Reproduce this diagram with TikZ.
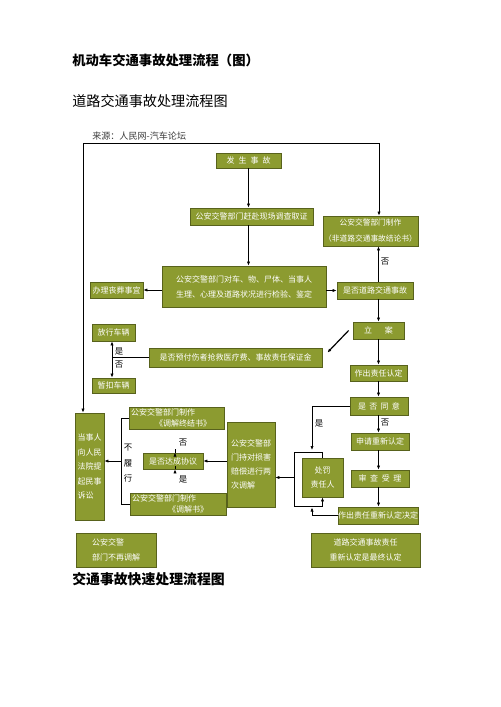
\documentclass[tikz,border=0pt]{standalone}
\usepackage{fontspec}
\setmainfont{Noto Sans CJK SC}
\usetikzlibrary{arrows.meta,calc}
\definecolor{boxfill}{RGB}{140,155,48}
\definecolor{boxline}{RGB}{88,98,28}
\definecolor{srcgray}{RGB}{60,60,60}
\tikzset{
  bx/.style={draw=boxline, fill=boxfill, text=white, line width=0.6pt, inner sep=0pt,
    font=\fontsize{6}{9}\selectfont, align=center},
  arr/.style={-{Latex[length=3pt,width=2.4pt]}, line width=0.5pt},
  ln/.style={line width=0.5pt},
  lbl/.style={inner sep=0pt, font=\fontsize{6.3}{7}\selectfont},
  ttl/.style={anchor=west, inner sep=0pt}
}
\begin{document}
\begin{tikzpicture}[x=0.75pt,y=-0.75pt]
\useasboundingbox (0,0) rectangle (500,707);
\fill[white] (0,0) rectangle (500,707);

% titles
\node[ttl, font=\bfseries\fontsize{10}{12}\selectfont] (t1) at (72,60) {机动车交通事故处理流程（图）};
\node[ttl, font=\fontsize{10.6}{12}\selectfont] (t2) at (72,101) {道路交通事故处理流程图};
\node[ttl, font=\fontsize{6.8}{8}\selectfont, text=srcgray] (src) at (92,136) {来源：人民网-汽车论坛};
\node[ttl, font=\bfseries\fontsize{10.4}{12}\selectfont] (t3) at (72,579) {交通事故快速处理流程图};

% boxes
\node[bx, minimum width=48.75pt, minimum height=11.25pt] (fs) at (248.5,160.5) {发\hspace{0.5em}生\hspace{0.5em}事\hspace{0.5em}故};
\node[bx, minimum width=92.25pt, minimum height=12.75pt] (gf) at (251.5,216.5) {公安交警部门赶赴现场调查取证};
\node[bx, minimum width=71.25pt, minimum height=22.5pt, font=\fontsize{5.8}{12}\selectfont] (zz) at (370.5,231) {公安交警部门制作\\（非道路交通事故结论书）};
\node[bx, minimum width=123pt, minimum height=30.75pt, font=\fontsize{6}{11.25}\selectfont] (jd) at (244,286.5) {公安交警部门对车、物、尸体、当事人\\生理、心理及道路状况进行检验、鉴定};
\node[bx, minimum width=39.75pt, minimum height=12pt] (sz) at (116.5,290) {办理丧葬事宜};
\node[bx, minimum width=57pt, minimum height=12.75pt] (sf) at (375,290.5) {是否道路交通事故};
\node[bx, minimum width=38.25pt, minimum height=12.75pt] (la) at (378.5,330.5) {立\hspace{1.6em}案};
\node[bx, minimum width=129.75pt, minimum height=14.25pt] (yf) at (235.5,357.5) {是否预付伤者抢救医疗费、事故责任保证金};
\node[bx, minimum width=32.25pt, minimum height=12.75pt] (fx) at (113.5,332.5) {放行车辆};
\node[bx, minimum width=32.25pt, minimum height=11.25pt] (zk) at (113.5,385.5) {暂扣车辆};
\node[bx, minimum width=42.75pt, minimum height=12pt] (zr) at (378.5,373) {作出责任认定};
\node[bx, minimum width=43.5pt, minimum height=13.5pt] (ty) at (379,406) {是\hspace{0.4em}否\hspace{0.4em}同\hspace{0.4em}意};
\node[bx, minimum width=43.5pt, minimum height=12.75pt] (sq) at (380,441.5) {申请重新认定};
\node[bx, minimum width=43.5pt, minimum height=12.75pt] (sc) at (380,478.5) {审\hspace{0.45em}查\hspace{0.45em}受\hspace{0.45em}理};
\node[bx, minimum width=60pt, minimum height=12.75pt] (cx) at (378,515.5) {作出责任重新认定决定};
\node[bx, minimum width=30.75pt, minimum height=29.25pt, font=\fontsize{6}{11}\selectfont] (cf) at (322.5,477.5) {处罚\\责任人};
\node[bx, minimum width=36pt, minimum height=63.75pt, align=left, font=\fontsize{6}{10.3}\selectfont] (lc) at (251,464.5) {公安交警部\\门持对损害\\赔偿进行两\\次调解};
\node[bx, minimum width=45pt, minimum height=12pt] (dc) at (173,461) {是否达成协议};
\node[bx, minimum width=71.25pt, minimum height=16.5pt, text width=68pt, align=left, font=\fontsize{6}{8.5}\selectfont] (zj) at (176.5,418) {公安交警部门制作\\\hspace*{3em}《调解终结书》};
\node[bx, minimum width=72pt, minimum height=16.5pt, text width=69pt, align=left, font=\fontsize{6}{8.5}\selectfont] (tj) at (178,504) {公安交警部门制作\\\hspace*{4.5em}《调解书》};
\node[bx, minimum width=21.75pt, minimum height=80.25pt, align=left, font=\fontsize{6}{10.9}\selectfont] (ds) at (89.5,466.5) {当事人\\向人民\\法院提\\起民事\\诉讼};
\node[bx, minimum width=60pt, minimum height=25.5pt, align=left, font=\fontsize{6}{11}\selectfont] (bz) at (116,550) {公安交警\\部门不再调解};
\node[bx, minimum width=81.75pt, minimum height=25.5pt, font=\fontsize{6}{11}\selectfont] (zs) at (365.5,550) {道路交通事故责任\\重新认定是最终认定};

% frame from top
\coordinate (tl) at (83,143);
\coordinate (tr) at (379,143);
\draw[arr] (tl) -- (tl |- ds.north);
\draw[arr] (tl) -- (tr) -- (tr |- zz.north);

% main flow
\draw[arr] (fs.south) -- (fs.south |- gf.north);
\draw[arr] (fs.south |- gf.south) -- (fs.south |- jd.north);
\draw[arr] (jd.west |- sz) -- (sz.east);
\draw[arr] (jd.east |- sf) -- (sf.west);
\draw[arr] (la.north |- sf.north) -- (la.north |- zz.south);
\node[lbl] (nf1) at (385,262) {否};
\draw[arr] (la.north |- sf.south) -- (la.north);
\draw[arr, line width=0.9pt] ($(la.west)+(-4,0)$) -- ($(yf.north east)+(5,5)$);

% vehicles
\coordinate (br) at (112,357.5);
\draw[ln] (yf.west) -- (br);
\draw[arr] (br) -- (br |- fx.south);
\draw[arr] (br) -- (br |- zk.north);
\node[lbl] (ls1) at (119,351) {是};
\node[lbl] (lf1) at (119,365) {否};

% right column
\draw[arr] (la.south) -- (la.south |- zr.north);
\draw[arr] (zr.south) -- (zr.south |- ty.north);
\draw[arr] (zr.south |- ty.south) -- (zr.south |- sq.north);
\node[lbl] (lf2) at (385,423) {否};
\draw[arr] (zr.south |- sq.south) -- (zr.south |- sc.north);
\draw[arr] (zr.south |- sc.south) -- (zr.south |- cx.north);

% yes from agree
\coordinate (yc) at (312,406);
\draw[arr] (ty.west) -- (yc) -- (312,450);
\node[lbl] (ls2) at (319,423) {是};

% bracket around punishment box
\coordinate (bkl) at (294,477.5);
\draw[ln] (cf.north) -- (cf.north |- 0,452) -- (294,452) -- (294,506) -- (cf.south |- 0,506);
\draw[arr] (cf.south |- 0,506) -- (cf.south);
\draw[arr] (cx.west) -- (312,515.5) -- (312,507.5);
\draw[arr] (bkl) -- (lc.east |- bkl);

% mediation
\draw[arr] (lc.west |- dc) -- (dc.east);
\draw[arr] ($(dc.north)+(2,0)$) -- ($(dc.north)+(2,0)$ |- zj.south);
\node[lbl] (lf3) at (183,443) {否};
\draw[arr] ($(dc.south)+(2,0)$) -- ($(dc.south)+(2,0)$ |- tj.north);
\node[lbl] (ls3) at (183,479) {是};

% not fulfilled
\coordinate (nb) at (121,461);
\draw[ln] (zj.west) -- (121,418) -- (121,504) -- (tj.west);
\draw[arr] (nb) -- (ds.east |- nb);
\node[lbl] (nl1) at (128,448) {不};
\node[lbl] (nl2) at (128,463) {履};
\node[lbl] (nl3) at (128,478) {行};
\end{tikzpicture}
\end{document}
